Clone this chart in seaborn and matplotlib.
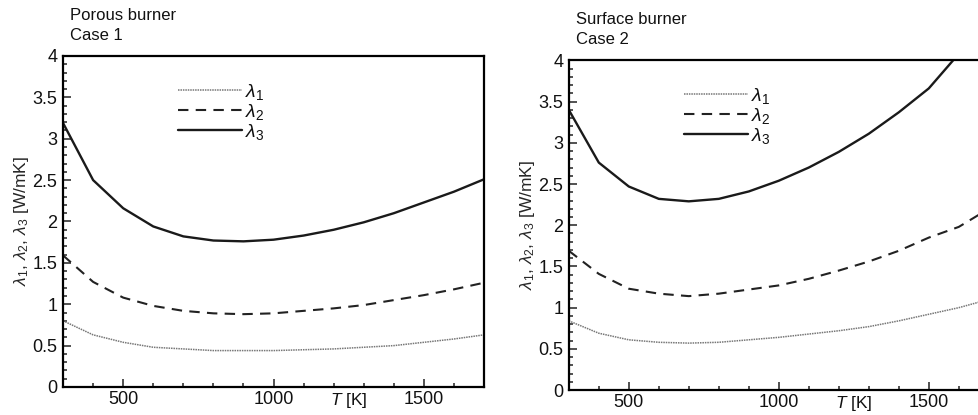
"""Thermal conductivities lambda_1..3 vs temperature, porous vs surface burner."""
import matplotlib
matplotlib.use("Agg")
import matplotlib.pyplot as plt
import numpy as np
import pandas as pd
import seaborn as sns
from matplotlib.ticker import MultipleLocator
from matplotlib.transforms import blended_transform_factory

# ----- data -----------------------------------------------------------------
T = [300, 400, 500, 600, 700, 800, 900, 1000, 1100, 1200, 1300, 1400, 1500, 1600, 1700]

case1_l1 = [0.80, 0.63, 0.54, 0.48, 0.46, 0.44, 0.44, 0.44, 0.45, 0.46, 0.48, 0.50, 0.54, 0.58, 0.63]
case1_l2 = [1.59, 1.27, 1.08, 0.98, 0.92, 0.89, 0.88, 0.89, 0.92, 0.95, 0.99, 1.05, 1.11, 1.18, 1.26]
case1_l3 = [3.19, 2.50, 2.16, 1.94, 1.82, 1.77, 1.76, 1.78, 1.83, 1.90, 1.99, 2.10, 2.23, 2.36, 2.51]

case2_l1 = [0.84, 0.69, 0.61, 0.58, 0.57, 0.58, 0.61, 0.64, 0.68, 0.72, 0.77, 0.84, 0.92, 1.00, 1.10]
case2_l2 = [1.69, 1.41, 1.23, 1.17, 1.14, 1.17, 1.22, 1.27, 1.35, 1.45, 1.56, 1.69, 1.85, 1.98, 2.20]
case2_l3 = [3.40, 2.76, 2.47, 2.32, 2.29, 2.32, 2.41, 2.54, 2.70, 2.89, 3.11, 3.37, 3.66, 4.08, 4.55]

titles = ["Porous burner\nCase 1", "Surface burner\nCase 2"]
series_names = [r"$\lambda_1$", r"$\lambda_2$", r"$\lambda_3$"]

# ----- style -----------------------------------------------------------------
sns.set_style("ticks")
plt.rcParams.update({
    "font.family": ["Liberation Sans", "DejaVu Sans"],
    "mathtext.fontset": "custom",
    "mathtext.rm": "Liberation Sans",
    "mathtext.it": "Liberation Sans:italic",
    "axes.linewidth": 1.6,
    "axes.edgecolor": "black",
    "text.color": "#111111",
})

STYLES = [
    dict(color="#777777", lw=1.1, linestyle=(0, (1, 0.6))),
    dict(color="#222222", lw=1.5, linestyle=(0, (5, 3.5))),
    dict(color="#1a1a1a", lw=1.7, linestyle="-"),
]

fig = plt.figure(figsize=(9.79, 4.15), dpi=100)
ax1 = fig.add_axes([0.0644, 0.0675, 0.430, 0.7976])
ax2 = fig.add_axes([0.581, 0.060, 0.429, 0.7945])

panels = [
    (ax1, [case1_l1, case1_l2, case1_l3]),
    (ax2, [case2_l1, case2_l2, case2_l3]),
]

for (ax, vals), title in zip(panels, titles):
    df = pd.DataFrame({"T": T * 3,
                       "lam": np.concatenate(vals),
                       "name": np.repeat(series_names, len(T))})
    for name, st in zip(series_names, STYLES):
        sub = df[df.name == name]
        sns.lineplot(data=sub, x="T", y="lam", ax=ax, label=name, **st)

    ax.set_xlim(300, 1700)
    ax.set_ylim(0, 4)
    ax.set_xticks([500, 1000, 1500])
    ax.xaxis.set_minor_locator(MultipleLocator(100))
    ax.set_yticks(np.arange(0, 4.01, 0.5))
    ax.set_yticklabels(["0", "0.5", "1", "1.5", "2", "2.5", "3", "3.5", "4"])
    ax.yaxis.set_minor_locator(MultipleLocator(0.1))
    ax.tick_params(which="both", direction="in", top=False, right=False,
                   labelsize=13, width=1.2, color="#333333", labelcolor="#111111")
    ax.tick_params(which="major", length=6)
    ax.tick_params(axis="x", which="major", pad=3)
    ax.tick_params(axis="y", which="major", pad=4)
    ax.tick_params(which="minor", length=3)
    for sp in ax.spines.values():
        sp.set_visible(True)
        sp.set_linewidth(1.6)

    ax.set_xlabel("")
    ax.set_ylabel(r"$\lambda_1$, $\lambda_2$, $\lambda_3$ [W/mK]", fontsize=12.5, labelpad=1)
    tr = blended_transform_factory(ax.transData, ax.transAxes)
    ax.text(1250, -0.012, r"$T$ [K]", transform=tr, ha="center", va="top", fontsize=12.5)
    ax.text(0.017, 1.04, title, transform=ax.transAxes, ha="left", va="bottom",
            fontsize=12, linespacing=1.4)

    leg = ax.legend(loc="upper left", bbox_to_anchor=(0.255, 0.945), frameon=False,
                    fontsize=14, handlelength=3.3, handletextpad=0.15,
                    labelspacing=0.0, borderaxespad=0)

fig.savefig("out.png", dpi=100)
